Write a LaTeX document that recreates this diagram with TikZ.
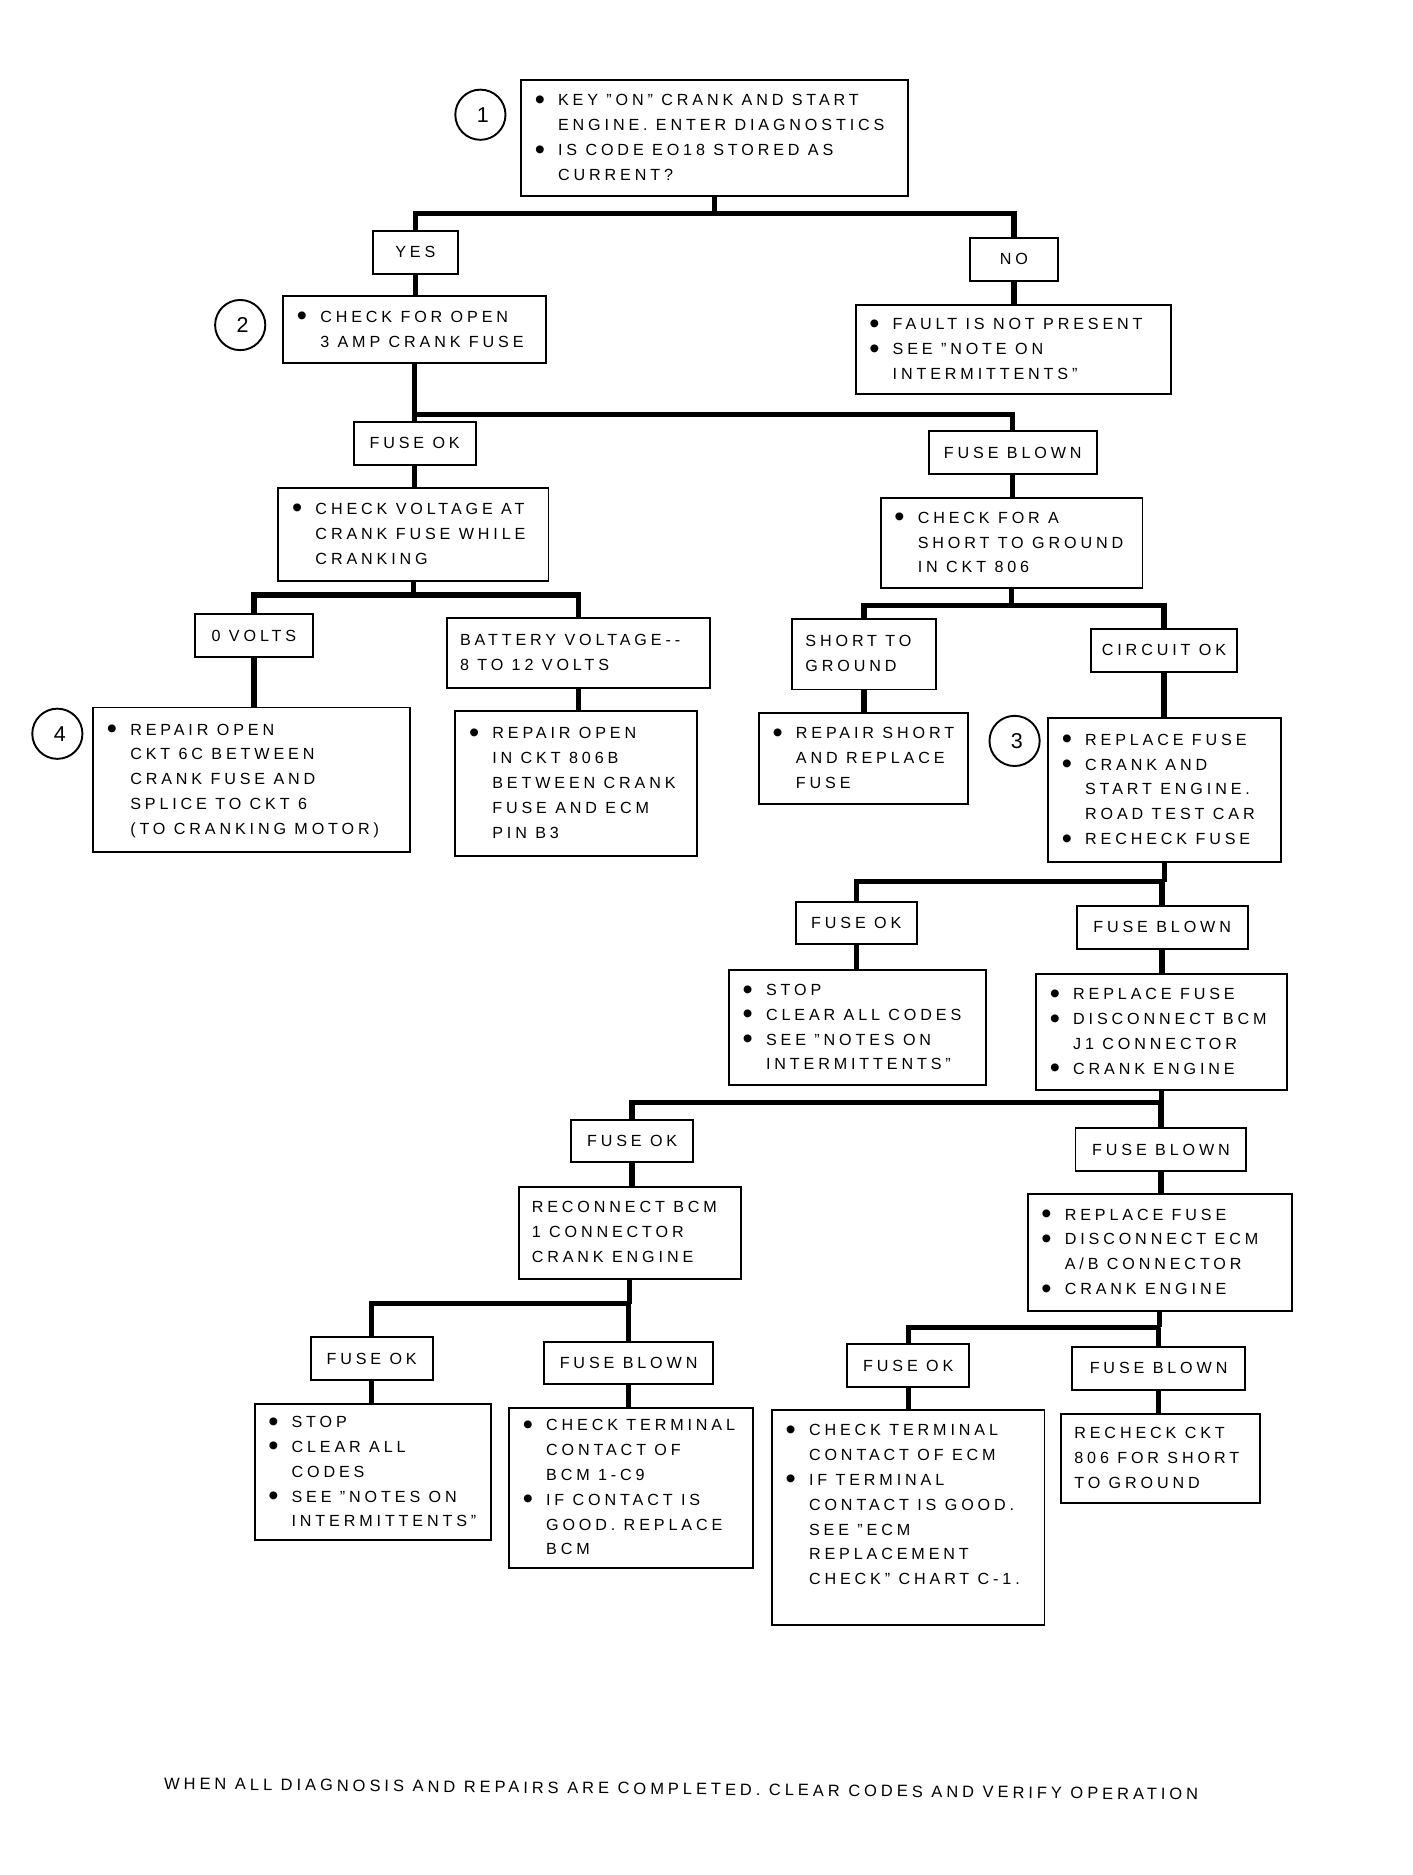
\documentclass[tikz,border=0pt]{standalone}
\usepackage{fontspec}
\usepackage{graphicx}
\setmainfont{Liberation Sans}[LetterSpace=24]
\newcommand{\chartfont}{\fontsize{13.5}{20.8}\selectfont}
\newcommand{\bu}{\makebox[20pt][l]{\hspace{0.5pt}\raisebox{-3pt}{\scalebox{1.8}{\textbullet}}}}
\newcommand{\rows}[1]{\begin{tabular}{@{}l@{}l@{}}#1\end{tabular}}
\newcommand{\plain}[1]{\begin{tabular}{@{}l@{}}#1\end{tabular}}

\begin{document}
\begin{tikzpicture}[x=1pt, y=-1pt,
		box/.style={draw, line width=1.6pt, inner xsep=11pt, inner ysep=0pt, font=\chartfont},
		chk/.style 2 args={box, minimum width=#1pt, minimum height=#2pt,
			execute at begin node={\hbox to \dimexpr#1pt-22pt\relax\bgroup},
			execute at end node={\hfil\egroup}},
		tag/.style 2 args={draw, line width=1.6pt, inner sep=0pt, font=\chartfont, minimum width=#1pt, minimum height=#2pt},
		num/.style={draw, circle, line width=1.6pt, minimum size=42pt, inner sep=0pt, font=\fontsize{18}{18}\selectfont},
		conn/.style={line width=4.5pt, line cap=butt, line join=miter}]
		\useasboundingbox (0,0) rectangle (1182,1569);

		% Draw top of chart
		\node[chk={324}{97}] (b1) at (598,115.5) {\rows{\bu & KEY "ON" CRANK AND START\\ & ENGINE. ENTER DIAGNOSTICS\\ \bu & IS CODE EO18 STORED AS\\ & CURRENT?}};
		\node[num] (n1) at (402,96) {\hspace{4pt}1};
		\node[tag={71}{36}] (yes) at (347.5,211) {YES};
		\node[tag={73}{36}] (no) at (848.5,217) {NO};
		\node[chk={220}{56}] (b2) at (347,276) {\rows{\bu & CHECK FOR OPEN\\ & 3 AMP CRANK FUSE}};
		\node[num] (n2) at (201,272) {\hspace{4pt}2};
		\node[chk={264}{75}] (bno) at (848,292.5) {\rows{\bu & FAULT IS NOT PRESENT\\ \bu & SEE "NOTE ON\\ & INTERMITTENTS"}};

		% Draw fuse check
		\node[tag={102}{36}] (ok1) at (347,371) {FUSE OK};
		\node[tag={141}{36}] (bl1) at (847.5,379) {FUSE BLOWN};
		\node[chk={226}{78}] (bv) at (346,447) {\rows{\bu & CHECK VOLTAGE AT\\ & CRANK FUSE WHILE\\ & CRANKING}};
		\node[chk={219}{75}] (bs) at (846.5,454.5) {\rows{\bu & CHECK FOR A\\ & SHORT TO GROUND\\ & IN CKT 806}};

		% Draw voltage branch
		\node[tag={99}{36}] (v0) at (212.5,532) {0 VOLTS};
		\node[chk={220}{59}] (vb) at (484,546.5) {\plain{BATTERY VOLTAGE-{}-\\8 TO 12 VOLTS}};
		\node[chk={265}{121}] (r4) at (210.5,652.5) {\rows{\bu & REPAIR OPEN\\ & CKT 6C BETWEEN\\ & CRANK FUSE AND\\ & SPLICE TO CKT 6\\ & (TO CRANKING MOTOR)}};
		\node[num] (n4) at (48,614) {\hspace{4pt}4};
		\node[chk={202}{121}] (r806) at (482,655.5) {\rows{\bu & REPAIR OPEN\\ & IN CKT 806B\\ & BETWEEN CRANK\\ & FUSE AND ECM\\ & PIN B3}};

		% Draw short branch
		\node[chk={120}{59}] (sg) at (723,547.5) {\plain{SHORT TO\\GROUND}};
		\node[tag={122}{36}] (cok) at (974,544) {CIRCUIT OK};
		\node[chk={175}{76}] (rs) at (722.5,635) {\rows{\bu & REPAIR SHORT\\ & AND REPLACE\\ & FUSE}};
		\node[chk={195}{120}] (b3) at (974.5,661) {\rows{\bu & REPLACE FUSE\\ \bu & CRANK AND\\ & START ENGINE.\\ & ROAD TEST CAR\\ \bu & RECHECK FUSE}};
		\node[num] (n3) at (849,620) {\hspace{4pt}3};

		% Draw recheck
		\node[tag={101}{35}] (ok2) at (716.5,772.5) {FUSE OK};
		\node[tag={143}{36}] (bl2) at (972.5,776) {FUSE BLOWN};
		\node[chk={215}{96}] (st1) at (717.5,860) {\rows{\bu & STOP\\ \bu & CLEAR ALL CODES\\ \bu & SEE "NOTES ON\\ & INTERMITTENTS"}};
		\node[chk={210}{97}] (bcm) at (972,863.5) {\rows{\bu & REPLACE FUSE\\ \bu & DISCONNECT BCM\\ & J1 CONNECTOR\\ \bu & CRANK ENGINE}};

		% Draw BCM branch
		\node[tag={102}{35}] (ok3) at (529,954.5) {FUSE OK};
		\node[tag={143}{36}] (bl3) at (971.5,962) {FUSE BLOWN};
		\node[chk={186}{77}] (rc) at (527,1031.5) {\plain{RECONNECT BCM\\1 CONNECTOR\\CRANK ENGINE}};
		\node[chk={221}{98}] (ecm) at (970.5,1048) {\rows{\bu & REPLACE FUSE\\ \bu & DISCONNECT ECM\\ & A/B CONNECTOR\\ \bu & CRANK ENGINE}};

		% Draw bottom row
		\node[tag={102}{36}] (ok4) at (311,1137) {FUSE OK};
		\node[tag={142}{35}] (bl4) at (526,1140.5) {FUSE BLOWN};
		\node[tag={102}{36}] (ok5) at (760,1143) {FUSE OK};
		\node[tag={145}{36}] (bl5) at (969.5,1145) {FUSE BLOWN};
		\node[chk={198}{114}] (st2) at (312,1232) {\rows{\bu & STOP\\ \bu & CLEAR ALL\\ & CODES\\ \bu & SEE "NOTES ON\\ & INTERMITTENTS"}};
		\node[chk={204}{134}] (tb) at (528,1245) {\rows{\bu & CHECK TERMINAL\\ & CONTACT OF\\ & BCM 1-C9\\ \bu & IF CONTACT IS\\ & GOOD. REPLACE\\ & BCM}};
		\node[chk={228}{180}] (te) at (760,1270) {\rows{\bu & CHECK TERMINAL\\ & CONTACT OF ECM\\ \bu & IF TERMINAL\\ & CONTACT IS GOOD.\\ & SEE "ECM\\ & REPLACEMENT\\ & CHECK" CHART C-1.\\ &}};
		\node[chk={166}{75}] (rk) at (971,1220.5) {\plain{RECHECK CKT\\806 FOR SHORT\\TO GROUND}};

		% Draw note
		\node[font=\fontsize{13.8}{16}\selectfont, rotate=-0.6] (note) at (570,1497) {WHEN ALL DIAGNOSIS AND REPAIRS ARE COMPLETED. CLEAR CODES AND VERIFY OPERATION};

		% Draw branch points
		\path (b1.south) ++(0,14) coordinate (j1);
		\path (b2.south) ++(0,42) coordinate (j2);
		\path (bv.south) ++(0,11) coordinate (j3);
		\path (bs.south) ++(0,14) coordinate (j4);
		\path (b3.south) ++(0,16) coordinate (j5);
		\path (bcm.south) ++(0,10) coordinate (j6);
		\path (rc.south) ++(0,20) coordinate (j7);
		\path (ecm.south) ++(0,13) coordinate (j8);

		% Draw connectors
		\draw[conn] (b1.south) -- (j1);
		\draw[conn] (yes.north) |- (j1) -| (no.north);
		\draw[conn] (yes.south) -- (yes.south |- b2.north);
		\draw[conn] (no.south) -- (no.south |- bno.north);
		\draw[conn] (b2.south) -- (j2);
		\draw[conn] (ok1.north) |- (j2) -| (bl1.north);
		\draw[conn] (ok1.south) -- (ok1.south |- bv.north);
		\draw[conn] (bl1.south) -- (bl1.south |- bs.north);
		\draw[conn] (bv.south) -- (j3);
		\draw[conn] (v0.north) |- (j3) -| (vb.north);
		\draw[conn] (v0.south) -- (v0.south |- r4.north);
		\draw[conn] (vb.south) -- (vb.south |- r806.north);
		\draw[conn] (bs.south) -- (j4);
		\draw[conn] (sg.north) |- (j4) -| (cok.north);
		\draw[conn] (sg.south) -- (sg.south |- rs.north);
		\draw[conn] (cok.south) -- (cok.south |- b3.north);
		\draw[conn] (b3.south) -- (j5);
		\draw[conn] (ok2.north) |- (j5) -| (bl2.north);
		\draw[conn] (ok2.south) -- (ok2.south |- st1.north);
		\draw[conn] (bl2.south) -- (bl2.south |- bcm.north);
		\draw[conn] (bcm.south) -- (j6);
		\draw[conn] (ok3.north) |- (j6) -| (bl3.north);
		\draw[conn] (ok3.south) -- (ok3.south |- rc.north);
		\draw[conn] (bl3.south) -- (bl3.south |- ecm.north);
		\draw[conn] (rc.south) -- (j7);
		\draw[conn] (ok4.north) |- (j7) -| (bl4.north);
		\draw[conn] (ok4.south) -- (ok4.south |- st2.north);
		\draw[conn] (bl4.south) -- (bl4.south |- tb.north);
		\draw[conn] (ecm.south) -- (j8);
		\draw[conn] (ok5.north) |- (j8) -| (bl5.north);
		\draw[conn] (ok5.south) -- (ok5.south |- te.north);
		\draw[conn] (bl5.south) -- (bl5.south |- rk.north);
	\end{tikzpicture}
\end{document}
